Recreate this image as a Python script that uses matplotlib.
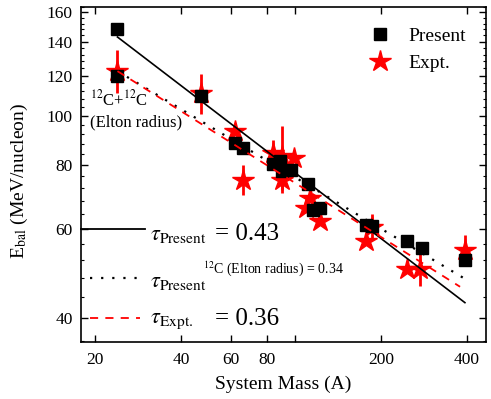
import numpy as np
import matplotlib
matplotlib.use('Agg')
import matplotlib.pyplot as plt
from matplotlib.ticker import FixedLocator, FixedFormatter, MultipleLocator, NullLocator, NullFormatter
from matplotlib.lines import Line2D

plt.rcParams['font.family'] = ['Liberation Serif', 'DejaVu Serif']
plt.rcParams['mathtext.fontset'] = 'stix'

# present calculation (black squares)
presentMass = [24, 24, 47, 62, 66, 84, 89, 90, 97, 111, 116, 122, 178, 186, 246, 278, 393]
presentEbal = [148, 120, 109.5, 88.6, 86.6, 80.3, 81.5, 78, 78.4, 73.3, 65.4, 66, 61.1, 60.6, 56.6, 55, 52.1]

# experimental values (red stars) with errors
exptMass = [24, 47, 62, 66, 84, 90, 99, 90, 113, 109, 122, 178, 186, 246, 273, 393]
exptEbal = [122.7, 111, 93.2, 74.9, 84.7, 83.4, 82.7, 74.9, 69, 65.9, 62, 56.6, 60.5, 50, 50, 54.5]
exptErr = [12, 10, 0, 5, 5, 12, 0, 4.5, 0, 0, 0, 0, 3.5, 0, 3.7, 3.8]

# power law fits (end points)
fitPresentMass = [24, 393]
fitPresentEbal = [143, 42.9]
fitEltonMass = [24, 388]
fitEltonEbal = [122.5, 48]
fitExptMass = [24, 378]
fitExptEbal = [122.5, 46.1]

xTicks = [20, 40, 60, 80, 100, 200, 400]
xTickLabels = ['20', '40', '60', '80', '', '200', '400']
yTicks = [40, 60, 80, 100, 120, 140, 160]

fig = plt.figure(figsize=(4.91, 3.99), dpi=100)
ax = fig.add_axes([0.165, 0.143, 0.825, 0.840])

ax.errorbar(exptMass, exptEbal, yerr=exptErr, fmt='*', color='red', ms=16,
            elinewidth=2, capsize=0, zorder=2)
ax.plot(presentMass, presentEbal, 's', color='black', ms=9, zorder=3)

ax.plot(fitPresentMass, fitPresentEbal, '-', color='black', lw=1.2, zorder=4)
ax.plot(fitEltonMass, fitEltonEbal, color='black', lw=1.6, linestyle=(0, (1, 4)), zorder=4)
ax.plot(fitExptMass, fitExptEbal, color='red', lw=1.3, linestyle=(0, (4.5, 4)), zorder=4)

ax.set_xscale('log')
ax.set_yscale('log')
ax.set_xlim(17.9, 466)
ax.set_ylim(35.9, 164)

ax.xaxis.set_major_locator(FixedLocator(xTicks))
ax.xaxis.set_major_formatter(FixedFormatter(xTickLabels))
ax.xaxis.set_minor_locator(NullLocator())
ax.yaxis.set_major_locator(FixedLocator(yTicks))
ax.yaxis.set_major_formatter(FixedFormatter([str(v) for v in yTicks]))
ax.yaxis.set_minor_locator(MultipleLocator(4))
ax.yaxis.set_minor_formatter(NullFormatter())
ax.tick_params(which='both', direction='in', top=True, right=True, labelsize=12.5)
ax.tick_params(which='major', length=5, width=1)
ax.tick_params(which='minor', length=2.5, width=0.8)
ax.tick_params(axis='x', pad=7)
ax.tick_params(axis='y', pad=6)
for s in ax.spines.values():
    s.set_linewidth(1.2)

ax.set_xlabel('System Mass (A)', fontsize=14)
ax.set_ylabel(r'E$_{\mathrm{bal}}$ (MeV/nucleon)', fontsize=14)
ax.xaxis.set_label_coords(0.5, -0.10)
ax.yaxis.set_label_coords(-0.125, 0.48)

# legend
handles = [Line2D([], [], marker='s', color='black', ls='none', ms=9),
           Line2D([], [], marker='*', color='red', ls='none', ms=16)]
ax.legend(handles, ['Present', 'Expt.'], loc='upper left', bbox_to_anchor=(0.67, 0.99),
          frameon=False, fontsize=14, handlelength=1, handletextpad=1.0, labelspacing=0.45)

# annotations
ax.text(0.022, 0.707, r'$^{12}$C+$^{12}$C', fontsize=12, transform=ax.transAxes)
ax.text(0.022, 0.642, '(Elton radius)', fontsize=12, transform=ax.transAxes)

ax.plot([0, 0.158], [0.337, 0.337], transform=ax.transAxes, color='black', lw=1.3, clip_on=False)
ax.plot([0.022, 0.151], [0.191, 0.191], transform=ax.transAxes, color='black', lw=1.6,
        linestyle=(0, (1, 4)))
ax.plot([0.022, 0.146], [0.072, 0.072], transform=ax.transAxes, color='red', lw=1.3,
        linestyle=(0, (4.5, 4)))

ax.text(0.170, 0.304, r'$\tau_{\mathrm{Present}}$', fontsize=16, transform=ax.transAxes, va='baseline')
ax.text(0.331, 0.304, '= 0.43', fontsize=18, transform=ax.transAxes, va='baseline')
ax.text(0.170, 0.164, r'$\tau_{\mathrm{Present}}$', fontsize=16, transform=ax.transAxes, va='baseline')
ax.text(0.301, 0.206, r'$^{12}$C (Elton radius) = 0.34', fontsize=10, transform=ax.transAxes, va='baseline')
ax.text(0.170, 0.057, r'$\tau_{\mathrm{Expt.}}$', fontsize=16, transform=ax.transAxes, va='baseline')
ax.text(0.331, 0.051, '= 0.36', fontsize=18, transform=ax.transAxes, va='baseline')

fig.savefig('out.png', dpi=100)
